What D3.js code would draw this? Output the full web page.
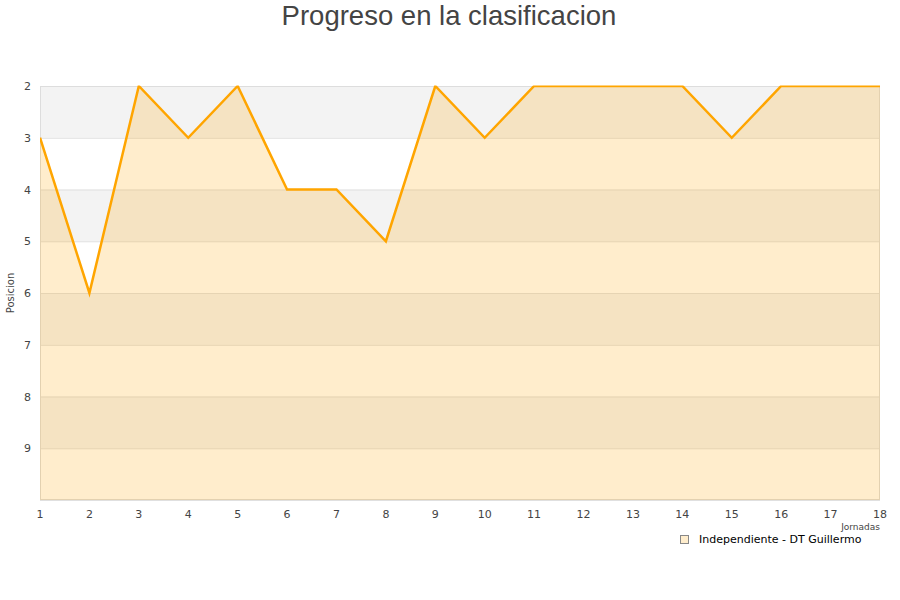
<!DOCTYPE html>
<html><head><meta charset="utf-8">
<script src="https://cdn.jsdelivr.net/npm/d3@7"></script>
<style>body{margin:0;background:#fff}</style>
</head><body>
<svg id="c" width="900" height="600"></svg>
<script>
const jornadas = [1,2,3,4,5,6,7,8,9,10,11,12,13,14,15,16,17,18];
const posiciones = [3,6,2,3,2,4,4,5,2,3,2,2,2,2,3,2,2,2];
const yTicks = [2,3,4,5,6,7,8,9];
const seriesName = "Independiente - DT Guillermo";
const titleText = "Progreso en la clasificacion";
const yTitle = "Posicion";
const xTitle = "Jornadas";

const svg = d3.select("#c");
const L=40,R=880,T=86,B=500;
const x = d3.scaleLinear().domain([1,18]).range([L,R]);
const y = d3.scaleLinear().domain([2,10]).range([T,B]);

svg.append("text").attr("x",449).attr("y",25).attr("text-anchor","middle")
  .attr("font-family","Liberation Sans, Arial, sans-serif").attr("font-size",27.5).attr("fill","#444").text(titleText);

// bands
const bands=[2,4,6,8];
svg.append("g").selectAll("rect").data(bands).join("rect")
  .attr("x",L).attr("width",R-L).attr("y",d=>y(d)).attr("height",d=>y(d+1)-y(d)).attr("fill","#f3f3f3");
// grid
svg.append("g").selectAll("line").data(d3.range(2,11)).join("line")
  .attr("x1",L).attr("x2",R).attr("y1",d=>y(d)+0.5).attr("y2",d=>y(d)+0.5).attr("stroke","#e0e0e0");

// border
svg.append("rect").attr("x",L+0.5).attr("y",T+0.5).attr("width",R-L-1).attr("height",B-T-1)
  .attr("fill","none").attr("stroke","#dddddd");

svg.append("defs").append("clipPath").attr("id","clip").append("rect")
  .attr("x",L).attr("y",T-0.5).attr("width",R-L).attr("height",B-T+0.5);
const g = svg.append("g").attr("clip-path","url(#clip)");
const data = jornadas.map((j,i)=>({j,p:posiciones[i]}));
g.append("path").datum(data).attr("fill","#ffa500").attr("fill-opacity",0.2)
  .attr("d",d3.area().x(d=>x(d.j)).y0(y(10)).y1(d=>y(d.p)));
g.append("path").datum(data).attr("fill","none").attr("stroke","#ffa500").attr("stroke-width",2.5)
  .attr("stroke-linejoin","miter")
  .attr("d",d3.line().x(d=>x(d.j)).y(d=>y(d.p)));

const font="DejaVu Sans, sans-serif";
svg.append("g").selectAll("text").data(yTicks).join("text")
  .attr("x",31).attr("y",d=>y(d)+4).attr("text-anchor","end")
  .attr("font-family",font).attr("font-size",11).attr("fill","#444").text(d=>d);
svg.append("g").selectAll("text").data(jornadas).join("text")
  .attr("x",d=>x(d)).attr("y",518).attr("text-anchor","middle")
  .attr("font-family",font).attr("font-size",11).attr("fill","#444").text(d=>d);

svg.append("text").attr("transform","translate(14,293) rotate(-90)").attr("text-anchor","middle")
  .attr("font-family",font).attr("font-size",10).attr("fill","#444").text(yTitle);
svg.append("text").attr("x",880).attr("y",530).attr("text-anchor","end")
  .attr("font-family",font).attr("font-size",9).attr("fill","#444").text(xTitle);

// legend
const lg = svg.append("g");
lg.append("rect").attr("x",680.5).attr("y",535.5).attr("width",8).attr("height",8)
  .attr("fill","#ffedcc").attr("stroke","#888");
lg.append("text").attr("x",699).attr("y",543).attr("font-family",font).attr("font-size",11)
  .attr("fill","#000").text(seriesName);
</script>
</body></html>
